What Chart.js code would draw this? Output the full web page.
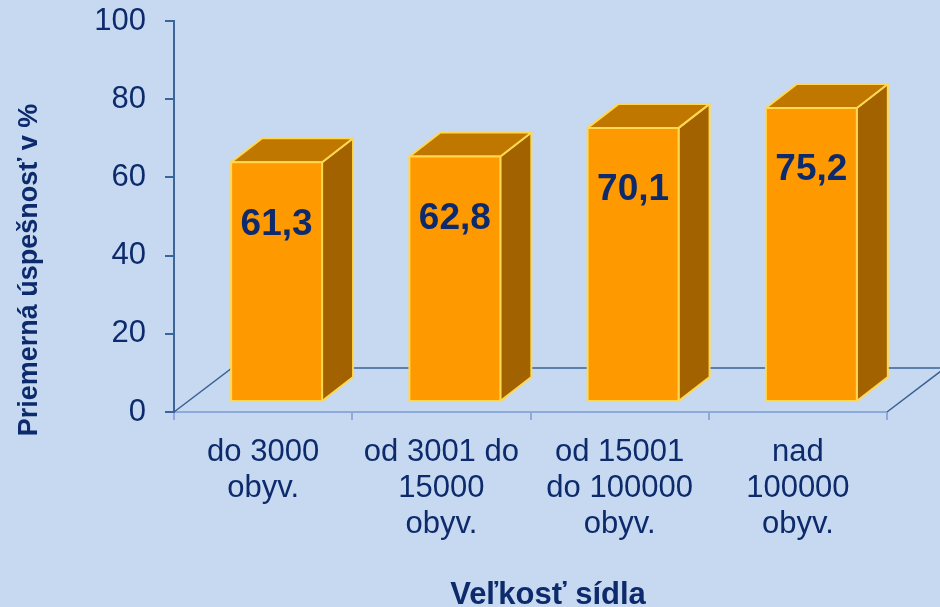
<!DOCTYPE html>
<html>
<head>
<meta charset="utf-8">
<script src="https://cdn.jsdelivr.net/npm/chart.js@4.4.1/dist/chart.umd.min.js"></script>
<style>
  html, body { margin: 0; padding: 0; background: #C6D9F0; }
  #wrap { width: 940px; height: 607px; position: relative; }
</style>
</head>
<body>
<div id="wrap"><canvas id="c" width="940" height="607"></canvas></div>
<script>
const categories = [
  ['do 3000', 'obyv.'],
  ['od 3001 do', '15000', 'obyv.'],
  ['od 15001', 'do 100000', 'obyv.'],
  ['nad', '100000', 'obyv.']
];
const values = [61.3, 62.8, 70.1, 75.2];
const yTicks = [0, 20, 40, 60, 80, 100];
const yTitle = 'Priemerná úspešnosť v %';
const xTitle = 'Veľkosť sídla';

const FONT = '"Liberation Sans", Arial, sans-serif';
const NAVY = '#0D2B6C';

// 3d look: floor depth and bar depth
const FLOOR_DX = 58, FLOOR_DY = 44;
const BAR_DX = 31, BAR_DY = 24;

const threeD = {
  id: 'threeD',
  beforeDatasetsDraw(chart) {
    const ctx = chart.ctx;
    const a = chart.chartArea;
    ctx.save();
    ctx.strokeStyle = '#3A6194';
    ctx.lineWidth = 1.5;
    ctx.beginPath();
    ctx.moveTo(a.left, a.bottom);
    ctx.lineTo(a.left + FLOOR_DX, a.bottom - FLOOR_DY);
    ctx.lineTo(a.right + FLOOR_DX, a.bottom - FLOOR_DY);
    ctx.moveTo(a.right, a.bottom);
    ctx.lineTo(a.right + FLOOR_DX, a.bottom - FLOOR_DY);
    ctx.stroke();
    ctx.restore();
  },
  afterDatasetsDraw(chart) {
    const ctx = chart.ctx;
    const meta = chart.getDatasetMeta(0);
    const offX = (FLOOR_DX - BAR_DX) / 2, offY = (FLOOR_DY - BAR_DY) / 2;
    ctx.save();
    ctx.lineJoin = 'round';
    meta.data.forEach((el, i) => {
      const x0 = el.x - el.width / 2 + offX;
      const x1 = el.x + el.width / 2 + offX;
      const yt = el.y - offY;
      const yb = el.base - offY;
      ctx.strokeStyle = '#FFD750';
      ctx.lineWidth = 2;
      // side
      ctx.beginPath();
      ctx.moveTo(x1, yt); ctx.lineTo(x1 + BAR_DX, yt - BAR_DY);
      ctx.lineTo(x1 + BAR_DX, yb - BAR_DY); ctx.lineTo(x1, yb); ctx.closePath();
      ctx.fillStyle = '#A36200'; ctx.fill(); ctx.stroke();
      // top
      ctx.beginPath();
      ctx.moveTo(x0, yt); ctx.lineTo(x0 + BAR_DX, yt - BAR_DY);
      ctx.lineTo(x1 + BAR_DX, yt - BAR_DY); ctx.lineTo(x1, yt); ctx.closePath();
      ctx.fillStyle = '#C07700'; ctx.fill(); ctx.stroke();
      // front
      ctx.beginPath();
      ctx.rect(x0, yt, x1 - x0, yb - yt);
      ctx.fillStyle = '#FF9900'; ctx.fill(); ctx.stroke();
      // value label
      ctx.fillStyle = NAVY;
      ctx.font = 'bold 37px ' + FONT;
      ctx.textAlign = 'center';
      ctx.textBaseline = 'middle';
      ctx.fillText(values[i].toFixed(1).replace('.', ','), (x0 + x1) / 2, yt + 62);
    });
    ctx.restore();
  },
  afterDraw(chart) {
    const ctx = chart.ctx;
    ctx.save();
    ctx.fillStyle = NAVY;
    ctx.font = 'bold 27px ' + FONT;
    ctx.textAlign = 'center';
    ctx.textBaseline = 'middle';
    ctx.translate(30, 270);
    ctx.rotate(-Math.PI / 2);
    ctx.fillText(yTitle, 0, 0);
    ctx.restore();
    ctx.save();
    ctx.fillStyle = NAVY;
    ctx.font = 'bold 31px ' + FONT;
    ctx.textAlign = 'center';
    ctx.textBaseline = 'alphabetic';
    ctx.fillText(xTitle, 548, 604);
    ctx.restore();
  }
};

new Chart(document.getElementById('c'), {
  type: 'bar',
  data: {
    labels: categories,
    datasets: [{
      data: values,
      backgroundColor: 'rgba(0,0,0,0)',
      borderWidth: 0,
      categoryPercentage: 1,
      barPercentage: 0.51
    }]
  },
  options: {
    responsive: false,
    animation: false,
    devicePixelRatio: 1,
    layout: { padding: { top: 21, right: 53, left: 0, bottom: 0 } },
    plugins: { legend: { display: false }, tooltip: { enabled: false } },
    scales: {
      x: {
        offset: true,
        grid: { display: true, offset: true, drawOnChartArea: false, drawTicks: true, tickLength: 8, color: '#8EAADB', lineWidth: 2 },
        border: { display: true, color: '#8EAADB', width: 2 },
        ticks: {
          color: NAVY,
          font: { family: FONT, size: 31, lineHeight: 1.15 },
          padding: 15,
          maxRotation: 0,
          autoSkip: false
        },
        afterFit(scale) { scale.height = 607 - 412; scale.paddingLeft = 0; scale.paddingRight = 0; }
      },
      y: {
        min: 0, max: 100,
        afterBuildTicks(scale) { scale.ticks = yTicks.map(v => ({ value: v })); },
        grid: { display: true, drawOnChartArea: false, drawTicks: true, tickLength: 9, color: '#3C649A', lineWidth: 2 },
        border: { display: true, color: '#3C649A', width: 2 },
        ticks: {
          color: NAVY,
          font: { family: FONT, size: 31 },
          padding: 19
        },
        afterFit(scale) { scale.width = 174; scale.paddingTop = 0; scale.paddingBottom = 0; }
      }
    }
  },
  plugins: [threeD]
});
</script>
</body>
</html>
